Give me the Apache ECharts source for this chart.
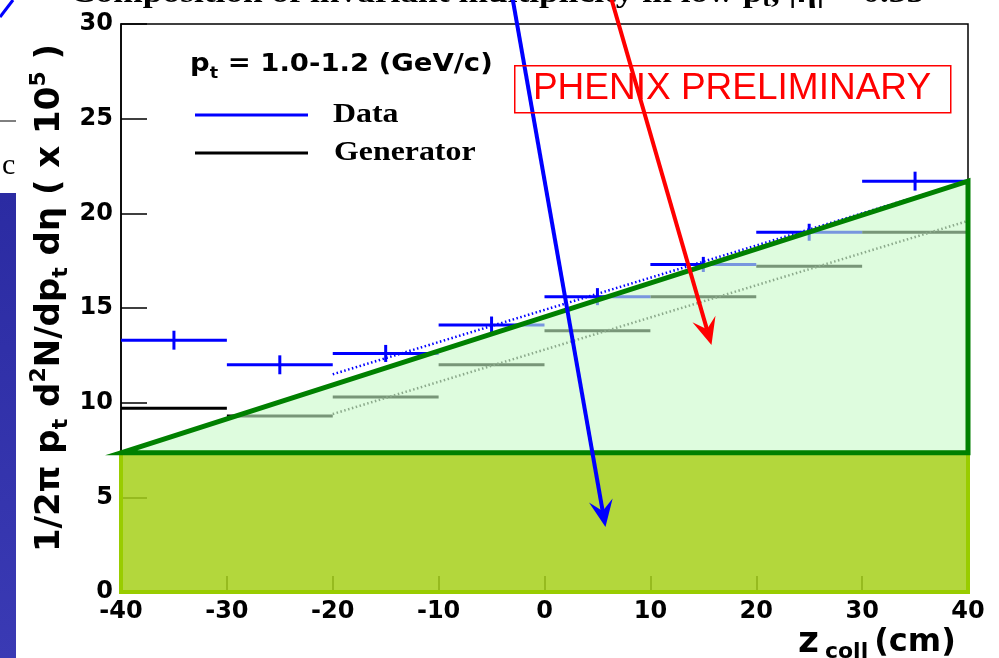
<!DOCTYPE html>
<html>
<head>
<meta charset="utf-8">
<script src="https://cdn.jsdelivr.net/npm/echarts@6/dist/echarts.min.js"></script>
<style>
  html, body { margin: 0; padding: 0; background: #ffffff; overflow: hidden; }
  #chart { width: 999px; height: 658px; }
</style>
</head>
<body>
<div id="chart"></div>
<script>
// z_coll bins (left edges, cm) and bin width
const binStarts = [-40, -30, -20, -10, 0, 10, 20, 30];
const binWidth = 10;

// 1/2π pt d²N/dpt dη (×10^5) per bin
const dataValues = [13.3, 12.0, 12.6, 14.1, 15.6, 17.3, 19.0, 21.7];
const dataErrors = [0.5, 0.5, 0.45, 0.45, 0.45, 0.4, 0.45, 0.5];
const generatorValues = [9.7, 9.3, 10.3, 12.0, 13.8, 15.6, 17.2, 19.0];

// straight-line fits (dotted) over -20..40 cm
const dataFit = [[-20, 11.5], [40, 21.7]];
const generatorFit = [[-20, 9.4], [40, 19.6]];

// axis ticks
const xTicks = [-40, -30, -20, -10, 0, 10, 20, 30, 40];
const yTicks = [0, 5, 10, 15, 20, 25, 30];

// shaded annotation: flat band plus rising wedge
const bandTop = 7.35;
const wedge = [[-40, 7.35], [40, 21.7], [40, 7.35]];

// annotation arrows [from, to] in axis units
const arrowBlue = [[-3.0, 31.3], [5.76, 3.43]];
const arrowRed = [[6.33, 31.3], [15.77, 13.05]];

const chart = echarts.init(document.getElementById('chart'), null, { renderer: 'canvas' });

const tickFont = { fontFamily: 'DejaVu Sans', fontWeight: 'bold', fontSize: 24, color: '#000' };

function histItem(color, withErr) {
  return function (params, api) {
    const x0 = api.value(0), v = api.value(1), e = api.value(2);
    const a = api.coord([x0, v]);
    const b = api.coord([x0 + binWidth, v]);
    const children = [{
      type: 'line',
      shape: { x1: a[0], y1: a[1], x2: b[0], y2: b[1] },
      style: { stroke: color, lineWidth: 3 }
    }];
    if (withErr) {
      const t = api.coord([x0 + binWidth / 2, v + e]);
      const d = api.coord([x0 + binWidth / 2, v - e]);
      children.push({
        type: 'line',
        shape: { x1: t[0], y1: t[1], x2: d[0], y2: d[1] },
        style: { stroke: color, lineWidth: 3 }
      });
    }
    return { type: 'group', children };
  };
}

function arrowItem(pts, color) {
  return function (params, api) {
    const s = api.coord(pts[0]);
    const t = api.coord(pts[1]);
    const dx = t[0] - s[0], dy = t[1] - s[1];
    const len = Math.sqrt(dx * dx + dy * dy);
    const ux = dx / len, uy = dy / len;
    const nx = -uy, ny = ux;
    const L = 27, W = 12;
    const notch = [t[0] - ux * L * 0.6, t[1] - uy * L * 0.6];
    return {
      type: 'group',
      children: [
        {
          type: 'line',
          shape: { x1: s[0], y1: s[1], x2: notch[0], y2: notch[1] },
          style: { stroke: color, lineWidth: 4 }
        },
        {
          type: 'polygon',
          shape: { points: [
            [t[0], t[1]],
            [t[0] - ux * L + nx * W, t[1] - uy * L + ny * W],
            notch,
            [t[0] - ux * L - nx * W, t[1] - uy * L - ny * W]
          ] },
          style: { fill: color }
        }
      ]
    };
  };
}

const option = {
  backgroundColor: '#ffffff',
  animation: false,
  grid: {
    left: 121, right: 31, top: 24, bottom: 66,
    show: true, borderColor: '#000', borderWidth: 1.5, backgroundColor: 'transparent'
  },
  xAxis: {
    type: 'value', min: -40, max: 40, interval: 10,
    axisLine: { show: true, onZero: false, lineStyle: { color: '#000', width: 1.5 } },
    axisTick: { show: true, inside: true, length: 16, lineStyle: { color: '#000', width: 1.5 } },
    axisLabel: Object.assign({ margin: 8, formatter: v => (xTicks.indexOf(v) >= 0 ? String(v) : '') }, tickFont),
    splitLine: { show: false }
  },
  yAxis: {
    type: 'value', min: 0, max: 30, interval: 5,
    axisLine: { show: true, onZero: false, lineStyle: { color: '#000', width: 1.5 } },
    axisTick: { show: true, inside: true, length: 26, lineStyle: { color: '#000', width: 1.5 } },
    axisLabel: Object.assign({ margin: 8, formatter: v => (yTicks.indexOf(v) >= 0 ? String(v) : '') }, tickFont),
    splitLine: { show: false }
  },
  series: [
    {
      name: 'Generator',
      type: 'custom',
      z: 2,
      clip: false,
      encode: { x: 0, y: 1 },
      data: binStarts.map((s, i) => [s, generatorValues[i], 0]),
      renderItem: histItem('#000000', false)
    },
    {
      name: 'Data',
      type: 'custom',
      z: 2,
      clip: false,
      encode: { x: 0, y: 1 },
      data: binStarts.map((s, i) => [s, dataValues[i], dataErrors[i]]),
      renderItem: histItem('#0000ff', true)
    },
    {
      name: 'Data fit',
      type: 'line',
      z: 2,
      symbol: 'none',
      data: dataFit,
      lineStyle: { color: '#0000ff', width: 2.5, type: [1.5, 2.5] }
    },
    {
      name: 'Generator fit',
      type: 'line',
      z: 2,
      symbol: 'none',
      data: generatorFit,
      lineStyle: { color: '#333333', width: 2.5, type: [1.5, 2.5] }
    },
    {
      name: 'band',
      type: 'custom',
      z: 3,
      clip: false,
      silent: true,
      data: [[0, 0]],
      renderItem: function (params, api) {
        const a = api.coord([binStarts[0], bandTop]);
        const b = api.coord([binStarts[binStarts.length - 1] + binWidth, 0]);
        return {
          type: 'rect',
          shape: { x: a[0], y: a[1], width: b[0] - a[0], height: b[1] - a[1] },
          style: { fill: 'rgba(166,208,26,0.85)', stroke: '#99cc00', lineWidth: 4 }
        };
      }
    },
    {
      name: 'wedge',
      type: 'custom',
      z: 4,
      clip: false,
      silent: true,
      data: [[0, 0]],
      renderItem: function (params, api) {
        return {
          type: 'polygon',
          shape: { points: wedge.map(p => api.coord(p)) },
          style: { fill: 'rgba(200,250,200,0.6)', stroke: '#008000', lineWidth: 5, lineJoin: 'miter', miterLimit: 10 }
        };
      }
    },
    {
      name: 'arrow blue',
      type: 'custom',
      z: 5,
      clip: false,
      silent: true,
      data: [[0, 0]],
      renderItem: arrowItem(arrowBlue, '#0000ff')
    },
    {
      name: 'arrow red',
      type: 'custom',
      z: 5,
      clip: false,
      silent: true,
      data: [[0, 0]],
      renderItem: arrowItem(arrowRed, '#ff0000')
    }
  ],
  graphic: [
    // slide edge on the left
    {
      type: 'rect', left: 0, top: 193, z: 10,
      shape: { width: 16, height: 465 },
      style: {
        fill: new echarts.graphic.LinearGradient(0, 0, 0, 1, [
          { offset: 0, color: '#2b2ba2' },
          { offset: 1, color: '#3a3ab4' }
        ])
      }
    },
    { type: 'line', z: 10, shape: { x1: 0, y1: 121, x2: 16, y2: 121 }, style: { stroke: '#000', lineWidth: 1 } },
    { type: 'text', z: 10, x: 2, y: 166, style: { text: 'c', fontFamily: 'Liberation Serif', fontSize: 30, fill: '#000', verticalAlign: 'middle' } },
    { type: 'line', z: 10, shape: { x1: 0, y1: 17, x2: 13, y2: 0 }, style: { stroke: '#0000ff', lineWidth: 3 } },
    // page heading, mostly cut off at the top edge
    {
      type: 'text', z: 1, x: 70, y: -6, scaleX: 1.18,
      style: {
        text: '{m|Composition of invariant multiplicity in low p}{s|t}{m|, |η| < 0.35}',
        verticalAlign: 'middle',
        rich: {
          m: { fontFamily: 'Liberation Serif', fontWeight: 'bold', fontSize: 30, lineHeight: 34, fill: '#000' },
          s: { fontFamily: 'Liberation Serif', fontWeight: 'bold', fontSize: 22, verticalAlign: 'bottom', fill: '#000' }
        }
      }
    },
    // y axis title
    {
      type: 'text', z: 6, x: 50, y: 298, rotation: Math.PI / 2,
      style: {
        text: '{m|1/2π p}{s|t}{m| d}{p|2}{m|N/dp}{s|t}{m| dη ( x 10}{p|5}{m| )}',
        align: 'center',
        verticalAlign: 'middle',
        rich: {
          m: { fontFamily: 'DejaVu Sans', fontWeight: 'bold', fontSize: 34, lineHeight: 44, fill: '#000' },
          s: { fontFamily: 'DejaVu Sans', fontWeight: 'bold', fontSize: 22, verticalAlign: 'bottom', fill: '#000' },
          p: { fontFamily: 'DejaVu Sans', fontWeight: 'bold', fontSize: 22, verticalAlign: 'top', fill: '#000' }
        }
      }
    },
    // legend
    {
      type: 'text', z: 6, x: 190, y: 64, scaleX: 1.1,
      style: {
        text: '{m|p}{s|t}{m| = 1.0-1.2 (GeV/c)}',
        verticalAlign: 'middle',
        rich: {
          m: { fontFamily: 'DejaVu Sans', fontWeight: 'bold', fontSize: 25, lineHeight: 36, fill: '#000' },
          s: { fontFamily: 'DejaVu Sans', fontWeight: 'bold', fontSize: 16, verticalAlign: 'bottom', fill: '#000' }
        }
      }
    },
    { type: 'line', z: 6, shape: { x1: 195, y1: 115, x2: 308, y2: 115 }, style: { stroke: '#0000ff', lineWidth: 3 } },
    { type: 'text', z: 6, x: 333, y: 115, scaleX: 1.18, style: { text: 'Data', fontFamily: 'Liberation Serif', fontWeight: 'bold', fontSize: 27, fill: '#000', verticalAlign: 'middle' } },
    { type: 'line', z: 6, shape: { x1: 195, y1: 153, x2: 308, y2: 153 }, style: { stroke: '#000000', lineWidth: 3 } },
    { type: 'text', z: 6, x: 334, y: 153, scaleX: 1.18, style: { text: 'Generator', fontFamily: 'Liberation Serif', fontWeight: 'bold', fontSize: 27, fill: '#000', verticalAlign: 'middle' } },
    // preliminary stamp
    {
      type: 'rect', z: 6, left: 514, top: 65,
      shape: { width: 436, height: 47 },
      style: { fill: 'transparent', stroke: '#ff0000', lineWidth: 1.5 }
    },
    {
      type: 'text', z: 6, x: 732, y: 89,
      style: { text: 'PHENIX PRELIMINARY', fontFamily: 'Liberation Sans', fontSize: 37, fill: '#ff0000', align: 'center', verticalAlign: 'middle' }
    },
    // x axis title
    {
      type: 'text', z: 6, x: 798, y: 643,
      style: {
        text: '{z|z}{s|coll}{m|(cm)}',
        verticalAlign: 'middle',
        rich: {
          z: { fontFamily: 'DejaVu Sans', fontWeight: 'bold', fontSize: 36, lineHeight: 40, fill: '#000' },
          s: { fontFamily: 'DejaVu Sans', fontWeight: 'bold', fontSize: 22, verticalAlign: 'bottom', padding: [0, 6, 0, 6], fill: '#000' },
          m: { fontFamily: 'DejaVu Sans', fontWeight: 'bold', fontSize: 32, lineHeight: 40, fill: '#000' }
        }
      }
    }
  ]
};

chart.setOption(option);
</script>
</body>
</html>
